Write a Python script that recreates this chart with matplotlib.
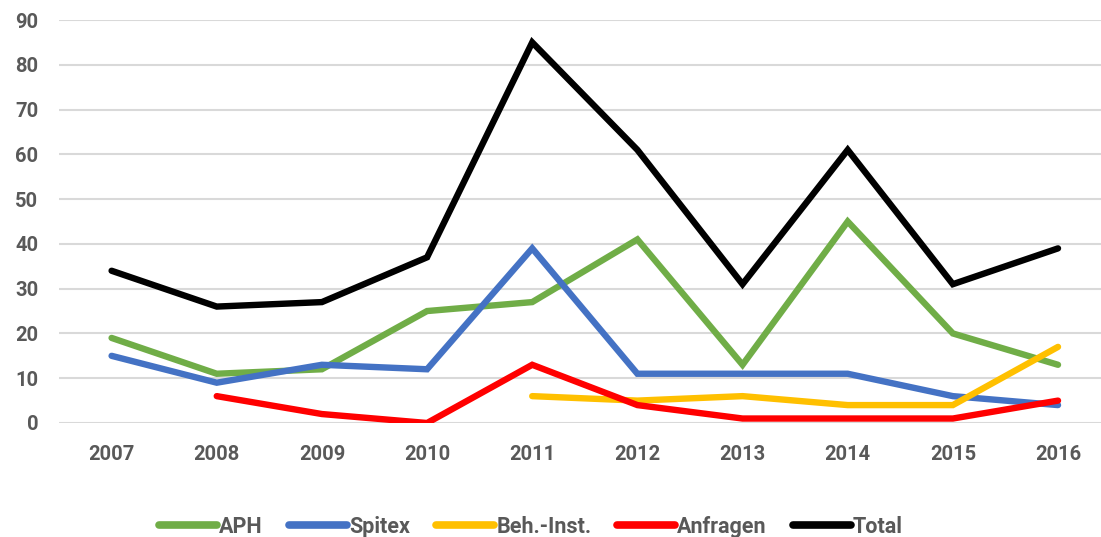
import numpy as np
import matplotlib.pyplot as plt
import matplotlib

matplotlib.rcParams['font.family'] = ['Roboto', 'DejaVu Sans']

years = ['2007', '2008', '2009', '2010', '2011', '2012', '2013', '2014', '2015', '2016']
aph = [19, 11, 12, 25, 27, 41, 13, 45, 20, 13]
spitex = [15, 9, 13, 12, 39, 11, 11, 11, 6, 4]
beh_inst = [np.nan, np.nan, np.nan, np.nan, 6, 5, 6, 4, 4, 17]
anfragen = [np.nan, 6, 2, 0, 13, 4, 1, 1, 1, 5]
total = [34, 26, 27, 37, 85, 61, 31, 61, 31, 39]

series = [
    ('APH', aph, '#70AD47'),
    ('Spitex', spitex, '#4472C4'),
    ('Beh.-Inst.', beh_inst, '#FFC000'),
    ('Anfragen', anfragen, '#FF0000'),
    ('Total', total, '#000000'),
]

fig = plt.figure(figsize=(11.01, 5.37), dpi=100)
ax = fig.add_axes([59 / 1101, 1 - 423 / 537, (1110.6 - 59) / 1101, (423 - 20) / 537])

x = np.arange(len(years))
for name, vals, col in series:
    ax.plot(x, vals, color=col, lw=4.6, label=name,
            solid_capstyle='round', solid_joinstyle='miter')

ax.set_xlim(-0.5, 9.5)
ax.set_ylim(0, 90)
ax.set_yticks(range(0, 91, 10))
ax.set_xticks(x)
ax.set_xticklabels(years)
ax.grid(axis='y', color='#d9d9d9', lw=1.5)
ax.set_axisbelow(True)
for s in ax.spines.values():
    s.set_visible(False)
ax.tick_params(length=0, labelsize=14.5, labelcolor='#595959')
ax.tick_params(axis='y', pad=15)
ax.tick_params(axis='x', pad=16)
for lab in ax.get_xticklabels() + ax.get_yticklabels():
    lab.set_fontweight('bold')

leg = fig.legend(loc='center', bbox_to_anchor=(531 / 1101, 1 - 527 / 537), ncol=5,
                 frameon=False, handlelength=2.7, handletextpad=0.1, columnspacing=1.2,
                 prop={'size': 15.5, 'weight': 'bold'}, labelcolor='#595959')
for ln in leg.get_lines():
    ln.set_linewidth(5.5)

plt.savefig('out.png', dpi=100)
